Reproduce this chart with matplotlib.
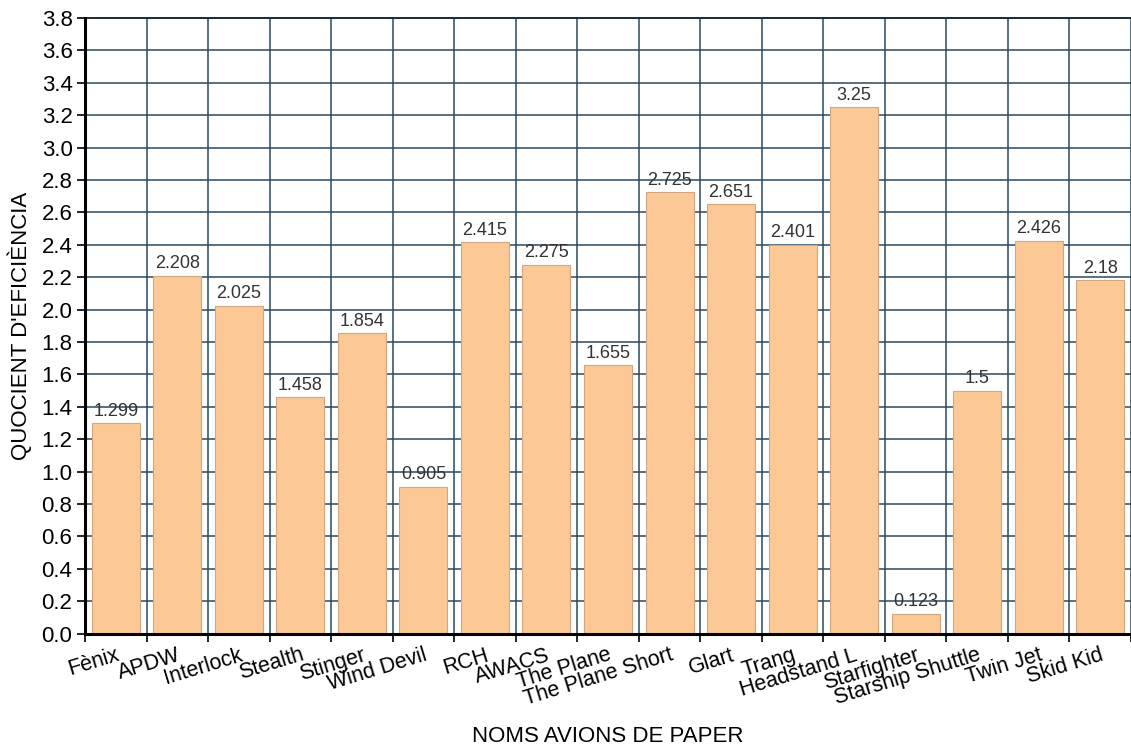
import matplotlib
matplotlib.use("Agg")
import matplotlib.pyplot as plt
import numpy as np

# Paper plane efficiency quotient per design
planes = ["Fènix", "APDW", "Interlock", "Stealth", "Stinger", "Wind Devil", "RCH",
          "AWACS", "The Plane", "The Plane Short", "Glart", "Trang", "Headstand L",
          "Starfighter", "Starship Shuttle", "Twin Jet", "Skid Kid"]
quotient = [1.299, 2.208, 2.025, 1.458, 1.854, 0.905, 2.415, 2.275, 1.655, 2.725,
            2.651, 2.401, 3.25, 0.123, 1.5, 2.426, 2.18]
value_labels = ["1.299", "2.208", "2.025", "1.458", "1.854", "0.905", "2.415", "2.275",
                "1.655", "2.725", "2.651", "2.401", "3.25", "0.123", "1.5", "2.426", "2.18"]
y_ticks = [round(0.2 * i, 1) for i in range(20)]

plt.rcParams["font.family"] = ["Liberation Sans", "DejaVu Sans"]

W, H = 1131, 749
fig = plt.figure(figsize=(W / 100, H / 100), dpi=100)
left, right, top, bottom = 85, 1131, 18, 633.5
ax = fig.add_axes([left / W, 1 - bottom / H, (right - left) / W, (bottom - top) / H])

x = np.arange(len(planes))
grid_color = "#2a4a60"

ax.bar(x, quotient, width=0.78, color="#fcc996", edgecolor="#d2a67e",
       linewidth=0.8, zorder=3)

for xi, v, t in zip(x, quotient, value_labels):
    ax.text(xi, v + 0.022, t, ha="center", va="bottom", fontsize=13,
            color="#333333", zorder=5)

ax.set_xlim(-0.5, len(planes) - 0.5)
ax.set_ylim(0, 3.8)
ax.set_yticks(y_ticks)
ax.set_yticklabels([f"{v:.1f}" for v in y_ticks], fontsize=16)

ax.set_xticks(x)
ax.set_xticklabels(planes, rotation=17, ha="right", va="top",
                   rotation_mode="anchor", fontsize=15.5)
ax.set_xticks(np.arange(len(planes) + 1) - 0.5, minor=True)
ax.tick_params(axis="x", which="major", length=0, pad=8)
ax.tick_params(axis="x", which="minor", length=6, width=1.2, color="black",
               direction="out")
ax.tick_params(axis="y", length=6, width=1.2, color="black", pad=3)

ax.grid(axis="y", which="major", color=grid_color, linewidth=1.1, zorder=1)
ax.grid(axis="x", which="minor", color=grid_color, linewidth=1.1, zorder=1)
ax.set_axisbelow(True)

for s in ("left", "bottom"):
    ax.spines[s].set_linewidth(2.2)
    ax.spines[s].set_color("black")
    ax.spines[s].set_zorder(6)
ax.spines["top"].set_color("#1a2a36")
ax.spines["top"].set_linewidth(1.4)
ax.spines["right"].set_visible(False)

ax.set_ylabel("QUOCIENT D'EFICIÈNCIA", fontsize=16)
ax.yaxis.set_label_coords(-0.062, 0.5)
ax.yaxis.label.set_va("center")
ax.set_xlabel("NOMS AVIONS DE PAPER", fontsize=16)
ax.xaxis.set_label_coords(0.5, -0.15)
ax.xaxis.label.set_va("top")

fig.savefig("out.png", dpi=100)
